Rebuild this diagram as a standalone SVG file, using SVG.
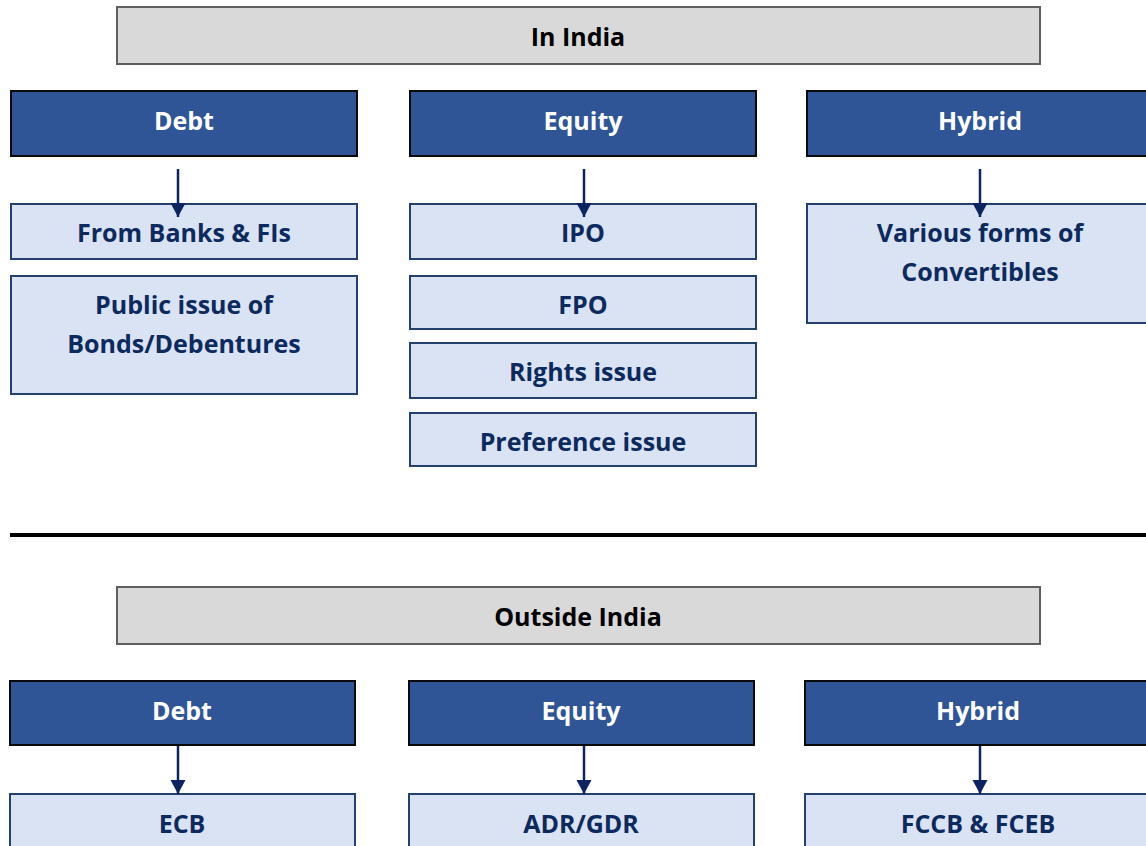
<svg xmlns="http://www.w3.org/2000/svg" width="1146" height="846" viewBox="0 0 1146 846">
  <style>
    text { font-family: "Open Sans", Lato, "Liberation Sans", sans-serif; font-weight: bold; font-size: 25px; text-anchor: middle; dominant-baseline: central; }
    .title rect { fill: #d9d9d9; stroke: #5f5f5f; stroke-width: 2; }
    .title text { fill: #000000; }
    .head rect { fill: #2f5597; stroke: #0a0a0a; stroke-width: 2; }
    .head text { fill: #ffffff; }
    .item rect { fill: #dae3f3; stroke: #24406e; stroke-width: 2; }
    .item text { fill: #0c2a5e; }
    .conn line { stroke: #0c2462; stroke-width: 2.5; marker-end: url(#arrow); }
  </style>
  <defs>
    <marker id="arrow" markerWidth="15" markerHeight="16" refX="14" refY="7.5" orient="auto" markerUnits="userSpaceOnUse">
      <path d="M0,0 L14,7.5 L0,15 Z" fill="#0c2462"/>
    </marker>
  </defs>
  <rect width="1146" height="846" fill="#ffffff"/>

  <!-- In India -->
  <g id="in-india" class="title"><rect x="117" y="7" width="923" height="57"/><text x="578" y="36">In India</text></g>
  <g id="in-debt" class="head"><rect x="11" y="91" width="346" height="65"/><text x="184" y="120">Debt</text></g>
  <g id="in-equity" class="head"><rect x="410" y="91" width="346" height="65"/><text x="583" y="120">Equity</text></g>
  <g id="in-hybrid" class="head"><rect x="807" y="91" width="345" height="65"/><text x="980" y="120">Hybrid</text></g>

  <g id="in-banks" class="item"><rect x="11" y="204" width="346" height="55"/><text x="184" y="232">From Banks &amp; FIs</text></g>
  <g id="in-bonds" class="item"><rect x="11" y="276" width="346" height="118"/><text x="184" y="304">Public issue of</text><text x="184" y="343">Bonds/Debentures</text></g>
  <g id="in-ipo" class="item"><rect x="410" y="204" width="346" height="55"/><text x="583" y="232">IPO</text></g>
  <g id="in-fpo" class="item"><rect x="410" y="276" width="346" height="53"/><text x="583" y="304">FPO</text></g>
  <g id="in-rights" class="item"><rect x="410" y="343" width="346" height="55"/><text x="583" y="371">Rights issue</text></g>
  <g id="in-pref" class="item"><rect x="410" y="413" width="346" height="53"/><text x="583" y="441">Preference issue</text></g>
  <g id="in-conv" class="item"><rect x="807" y="204" width="345" height="119"/><text x="980" y="232">Various forms of</text><text x="980" y="271">Convertibles</text></g>

  <!-- section divider -->
  <line x1="10" y1="535" x2="1146" y2="535" stroke="#000000" stroke-width="4"/>

  <!-- Outside India -->
  <g id="out-india" class="title"><rect x="117" y="587" width="923" height="57"/><text x="578" y="616">Outside India</text></g>
  <g id="out-debt" class="head"><rect x="10" y="681" width="345" height="64"/><text x="182" y="710">Debt</text></g>
  <g id="out-equity" class="head"><rect x="409" y="681" width="345" height="64"/><text x="581" y="710">Equity</text></g>
  <g id="out-hybrid" class="head"><rect x="805" y="681" width="347" height="64"/><text x="978" y="710">Hybrid</text></g>

  <g id="out-ecb" class="item"><rect x="10" y="794" width="345" height="70"/><text x="182" y="823">ECB</text></g>
  <g id="out-adr" class="item"><rect x="409" y="794" width="345" height="70"/><text x="581" y="823">ADR/GDR</text></g>
  <g id="out-fccb" class="item"><rect x="805" y="794" width="347" height="70"/><text x="978" y="823">FCCB &amp; FCEB</text></g>

  <g id="connectors" class="conn">
    <line x1="178" y1="169" x2="178" y2="217"/>
    <line x1="584" y1="169" x2="584" y2="217"/>
    <line x1="980" y1="169" x2="980" y2="217"/>
    <line x1="178" y1="746" x2="178" y2="794"/>
    <line x1="584" y1="746" x2="584" y2="794"/>
    <line x1="980" y1="746" x2="980" y2="794"/>
  </g>
</svg>
